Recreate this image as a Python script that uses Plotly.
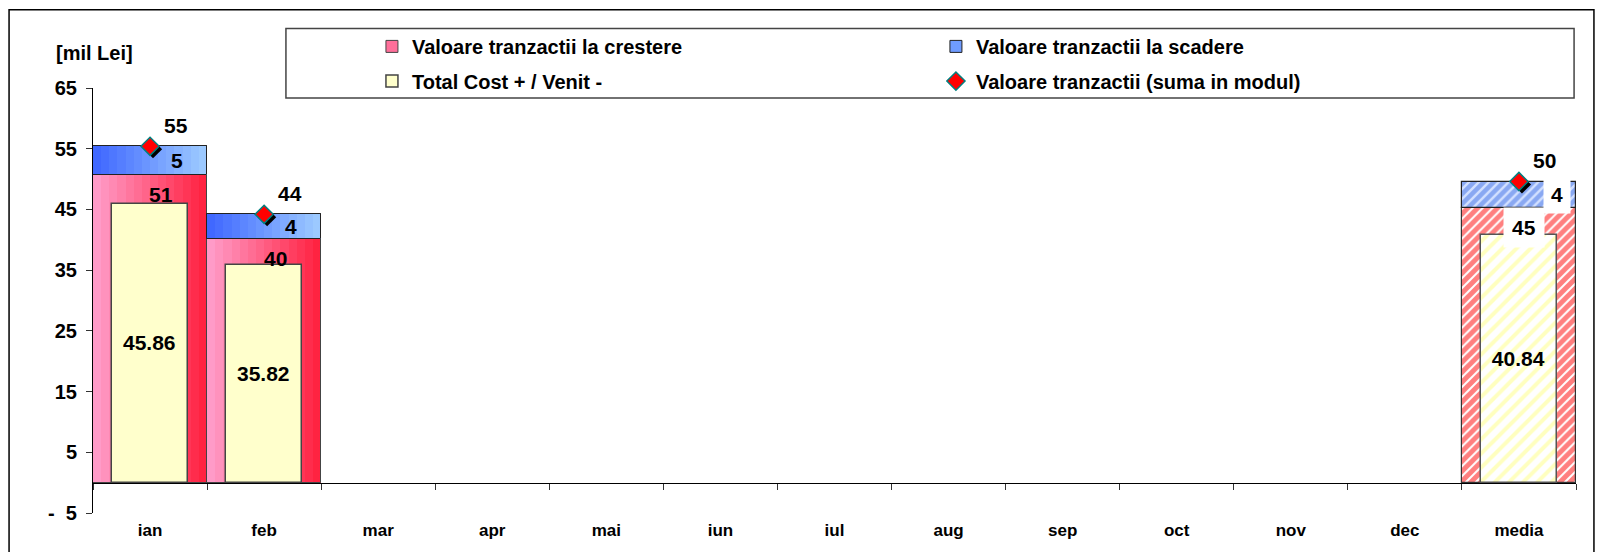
import plotly.graph_objects as go

# ---------------- data ----------------
categories = ["ian", "feb", "mar", "apr", "mai", "iun", "iul", "aug", "sep", "oct", "nov", "dec", "media"]
crestere = [50.6, 40.1, None, None, None, None, None, None, None, None, None, None, 45.2]
scadere = [4.8, 4.1, None, None, None, None, None, None, None, None, None, None, 4.4]
total_cost = [45.86, 35.82, None, None, None, None, None, None, None, None, None, None, 40.84]
modul = [55.4, 44.2, None, None, None, None, None, None, None, None, None, None, 49.6]

y_tickvals = [-5, 5, 15, 25, 35, 45, 55, 65]
y_ticktext = ["-\u00a0\u00a05", "5", "15", "25", "35", "45", "55", "65"]

name_crestere = "Valoare tranzactii la crestere"
name_scadere = "Valoare tranzactii la scadere"
name_total = "Total Cost + / Venit -"
name_modul = "Valoare tranzactii (suma in modul)"

FONT = "Liberation Sans, Arial, sans-serif"
n = len(categories)
is_avg = [c == "media" for c in categories]
Y_RANGE = [-5, 65]
X_RANGE = [-0.5, n - 0.5]

# plot area size in px (used for the marker-shadow offset)
PLOT_W, PLOT_H = 1483, 429
SHADOW_PX = 3


def months_only(vals):
    return [None if a else v for v, a in zip(vals, is_avg)]


def avg_only(vals):
    return [v if a else None for v, a in zip(vals, is_avg)]


def lerp(c1, c2, t):
    return "rgb(%d,%d,%d)" % tuple(round(a + (b - a) * t) for a, b in zip(c1, c2))


fig = go.Figure()
N_SLICES = 14


def gradient_bar(vals, base, left_rgb, right_rgb, mid_color, name, legend, line_color):
    mv = months_only(vals)
    mb = months_only(base) if base is not None else None
    fig.add_trace(go.Bar(x=categories, y=mv, base=mb, width=1.0, name=name, legend=legend,
                         marker=dict(color=mid_color, line=dict(color=line_color, width=1)),
                         hoverinfo="skip"))
    for k in range(N_SLICES):
        t = (k + 0.5) / N_SLICES
        fig.add_trace(go.Bar(x=categories, y=mv, base=mb, width=1.0 / N_SLICES,
                             offset=-0.5 + k / N_SLICES, showlegend=False,
                             marker=dict(color=lerp(left_rgb, right_rgb, t), line=dict(width=0)),
                             hoverinfo="skip"))
    fig.add_trace(go.Bar(x=categories, y=mv, base=mb, width=1.0, showlegend=False,
                         marker=dict(color="rgba(0,0,0,0)", line=dict(color=line_color, width=1)),
                         hoverinfo="skip"))


def hatched_bar(vals, base, width, fg, bg, size, solidity, line_color, line_width):
    av = avg_only(vals)
    ab = avg_only(base) if base is not None else None
    fig.add_trace(go.Bar(x=categories, y=av, base=ab, width=width, showlegend=False,
                         marker=dict(color=bg, line=dict(color=line_color, width=line_width),
                                     pattern=dict(shape="/", fgcolor=fg, bgcolor=bg,
                                                  size=size, solidity=solidity)),
                         hoverinfo="skip"))


# pink (crestere)
gradient_bar(crestere, None, (255, 160, 205), (255, 30, 60), "#ff6f9a", name_crestere, "legend", "#444444")
hatched_bar(crestere, None, 1.0, "#ff0000", "#ffffff", 7, 0.72, "#333333", 1.2)

# blue (scadere) stacked on pink
gradient_bar(scadere, crestere, (60, 100, 255), (160, 205, 255), "#6f9cff", name_scadere, "legend2", "#222222")
hatched_bar(scadere, crestere, 1.0, "#3f70e6", "#d2e0ff", 7, 0.65, "#222222", 1.2)

# yellow (total cost), narrower, overlaid
fig.add_trace(go.Bar(
    x=categories, y=months_only(total_cost), width=0.667, name=name_total, legend="legend3",
    marker=dict(color="#ffffcc", line=dict(color="#444444", width=1.5)),
    texttemplate="%{y:.2f}", textposition="inside", insidetextanchor="middle",
    textangle=0, constraintext="none",
    textfont=dict(family=FONT, size=21, color="black", weight=700),
    hoverinfo="skip",
))
fig.add_trace(go.Bar(
    x=categories, y=avg_only(total_cost), width=0.667, showlegend=False,
    marker=dict(color="#ffffff", line=dict(color="#555555", width=1.5),
                pattern=dict(shape="/", fgcolor="#ffff80", bgcolor="#ffffff", size=10, solidity=0.4)),
    texttemplate="%{y:.2f}", textposition="inside", insidetextanchor="middle",
    textangle=0, constraintext="none",
    textfont=dict(family=FONT, size=21, color="black", weight=700),
    hoverinfo="skip",
))

# diamond shadow (drawn on an overlay axis pair shifted by a few pixels)
fig.add_trace(go.Scatter(
    x=categories, y=modul, mode="markers", showlegend=False, xaxis="x2", yaxis="y2",
    marker=dict(symbol="diamond", size=14, color="black"),
    hoverinfo="skip",
))
# diamonds (suma in modul)
fig.add_trace(go.Scatter(
    x=categories, y=modul, mode="markers", name=name_modul, legend="legend4",
    xaxis="x3", yaxis="y3",
    marker=dict(symbol="diamond", size=14, color="#ff0000", line=dict(color="#008080", width=1.5)),
    hoverinfo="skip",
))

# ---------------- data labels ----------------
annotations = []
lab_font = dict(family=FONT, size=21, color="black", weight=700)
for i, c in enumerate(categories):
    if crestere[i] is None:
        continue
    avg = is_avg[i]
    bg = "white" if avg else "rgba(0,0,0,0)"
    annotations.append(dict(x=c, y=crestere[i], text=f"{crestere[i]:.0f}", showarrow=False,
                            xshift=5 if avg else 11, yshift=-19, yanchor="middle", font=lab_font,
                            bgcolor=bg, borderpad=8 if avg else 0))
    annotations.append(dict(x=c, y=crestere[i] + scadere[i] / 2, text=f"{scadere[i]:.0f}",
                            showarrow=False, xshift=38 if avg else 27, yanchor="middle", font=lab_font,
                            bgcolor=bg, borderpad=7 if avg else 0))
    annotations.append(dict(x=c, y=modul[i], text=f"{modul[i]:.0f}", showarrow=False,
                            xshift=26, yshift=21, yanchor="middle", font=lab_font))

annotations.append(dict(xref="paper", yref="paper", x=-0.0263, y=1.0816, xanchor="left",
                        yanchor="middle", text="[mil Lei]", showarrow=False,
                        font=dict(family=FONT, size=20, color="black", weight=700)))

shapes = [
    dict(type="rect", xref="paper", yref="paper", x0=-0.0566, x1=1.0121, y0=-0.2, y1=1.1841,
         line=dict(color="black", width=1.5), fillcolor="white", layer="below"),
    dict(type="rect", xref="paper", yref="paper", x0=0.1301, x1=0.9987, y0=0.9767, y1=1.1399,
         line=dict(color="#444444", width=1.5), fillcolor="white", layer="below"),
]

leg_common = dict(orientation="v", xanchor="left", yanchor="middle", bgcolor="rgba(0,0,0,0)",
                  borderwidth=0, font=dict(family=FONT, size=20, color="black", weight=700),
                  itemclick=False, itemdoubleclick=False)

dx = SHADOW_PX * (X_RANGE[1] - X_RANGE[0]) / PLOT_W
dy = SHADOW_PX * (Y_RANGE[1] - Y_RANGE[0]) / PLOT_H
hidden = dict(visible=False, showgrid=False, zeroline=False, fixedrange=True)

fig.update_layout(
    width=1587, height=544,
    margin=dict(l=85, r=19, t=80, b=35),
    paper_bgcolor="white", plot_bgcolor="rgba(0,0,0,0)",
    barmode="overlay", bargap=0, showlegend=True,
    font=dict(family=FONT, color="black"),
    xaxis=dict(type="category", categoryorder="array", categoryarray=categories,
               range=X_RANGE, anchor="free", position=5 / 70,
               showline=True, linecolor="black", linewidth=1,
               ticks="outside", tickson="boundaries", ticklen=6, tickcolor="#333333",
               ticklabelstandoff=32, showgrid=False, zeroline=False,
               tickfont=dict(family=FONT, size=17, color="black", weight=700)),
    yaxis=dict(range=Y_RANGE, tickvals=y_tickvals, ticktext=y_ticktext,
               showline=True, linecolor="black", linewidth=1,
               ticks="outside", ticklen=6, tickcolor="#333333", ticklabelstandoff=5,
               showgrid=False, zeroline=False,
               tickfont=dict(family=FONT, size=20, color="black", weight=700)),
    xaxis2=dict(type="category", categoryorder="array", categoryarray=categories,
                overlaying="x", range=[X_RANGE[0] - dx, X_RANGE[1] - dx], **hidden),
    yaxis2=dict(overlaying="y", range=[Y_RANGE[0] + dy, Y_RANGE[1] + dy], **hidden),
    xaxis3=dict(type="category", categoryorder="array", categoryarray=categories,
                overlaying="x", range=X_RANGE, **hidden),
    yaxis3=dict(overlaying="y", range=Y_RANGE, **hidden),
    legend=dict(x=0.1881, y=1.0979, **leg_common),
    legend2=dict(x=0.5684, y=1.0979, **leg_common),
    legend3=dict(x=0.1881, y=1.0163, **leg_common),
    legend4=dict(x=0.5684, y=1.0163, **leg_common),
    annotations=annotations,
    shapes=shapes,
)

fig.write_html("out.html")
